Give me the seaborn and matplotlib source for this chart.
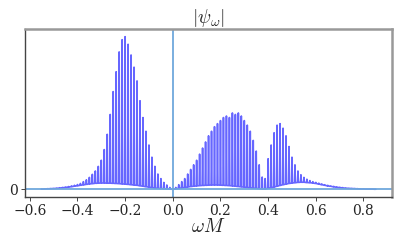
import numpy as np
import pandas as pd
import matplotlib
matplotlib.use("Agg")
import matplotlib.pyplot as plt
import seaborn as sns

# frequency grid of the oscillation peaks
omega_start = -0.55
omega_step = 0.0125

# upper envelope of |psi_omega| (normalised to the peak), one value per peak
upper = [
    0.002, 0.003, 0.004, 0.005, 0.006, 0.008, 0.010, 0.012, 0.015, 0.018,
    0.022, 0.026, 0.031, 0.038, 0.050, 0.062, 0.078, 0.098, 0.120, 0.150,
    0.190, 0.260, 0.360, 0.490, 0.640, 0.770, 0.900, 0.980, 1.000, 0.950,
    0.880, 0.800, 0.710, 0.580, 0.470, 0.380, 0.290, 0.210, 0.150, 0.100,
    0.070, 0.045, 0.028, 0.012, 0.002,
    0.012, 0.030, 0.050, 0.070, 0.100, 0.130, 0.160, 0.190, 0.230, 0.270,
    0.310, 0.350, 0.380, 0.410, 0.430, 0.450, 0.470, 0.480, 0.470, 0.500,
    0.490, 0.500, 0.480, 0.450, 0.420, 0.380, 0.320, 0.250, 0.160, 0.080,
    0.070, 0.200, 0.290, 0.370, 0.420, 0.430, 0.400, 0.350, 0.280, 0.210,
    0.160, 0.120, 0.095, 0.078, 0.066, 0.057, 0.050, 0.045, 0.040, 0.035,
    0.030, 0.026, 0.022, 0.019, 0.016, 0.013, 0.011, 0.009, 0.007, 0.006,
    0.005, 0.004, 0.003, 0.003, 0.002, 0.002, 0.001, 0.001,
]

# lower envelope (minima between the peaks)
lower = [
    0.001, 0.002, 0.003, 0.004, 0.005, 0.006, 0.008, 0.010, 0.012, 0.014,
    0.017, 0.020, 0.023, 0.026, 0.029, 0.032, 0.035, 0.037, 0.039, 0.040,
    0.041, 0.041, 0.040, 0.040, 0.039, 0.038, 0.037, 0.035, 0.034, 0.032,
    0.030, 0.028, 0.026, 0.023, 0.020, 0.017, 0.014, 0.011, 0.008, 0.006,
    0.004, 0.003, 0.002, 0.001, 0.000,
    0.003, 0.006, 0.009, 0.012, 0.015, 0.018, 0.020, 0.022, 0.024, 0.025,
    0.026, 0.027, 0.028, 0.028, 0.028, 0.027, 0.026, 0.025, 0.024, 0.022,
    0.020, 0.018, 0.016, 0.014, 0.012, 0.010, 0.008, 0.006, 0.004, 0.002,
    0.002, 0.006, 0.010, 0.015, 0.020, 0.025, 0.030, 0.034, 0.038, 0.041,
    0.043, 0.045, 0.046, 0.046, 0.044, 0.043, 0.041, 0.038, 0.034, 0.030,
    0.026, 0.022, 0.019, 0.016, 0.013, 0.011, 0.009, 0.007, 0.006, 0.005,
    0.004, 0.003, 0.002, 0.002, 0.001, 0.001, 0.001, 0.000,
]

xticks = [-0.6, -0.4, -0.2, 0.0, 0.2, 0.4, 0.6, 0.8]

n = min(len(upper), len(lower))
omega = omega_start + omega_step * np.arange(n)

# narrow spike at each peak, flat run along the trough in between
d = 0.0018
xs = np.empty(3 * n)
ys = np.empty(3 * n)
xs[0::3] = omega - d
xs[1::3] = omega
xs[2::3] = omega + d
ys[0::3] = lower[:n]
ys[1::3] = upper[:n]
ys[2::3] = lower[:n]
df = pd.DataFrame({"omega": xs, "psi": ys})

sns.set_style("ticks")
plt.rcParams["font.family"] = ["DejaVu Serif"]
plt.rcParams["mathtext.fontset"] = "cm"

fig = plt.figure(figsize=(4.07, 2.44), dpi=100)
ax = fig.add_axes([0.0614, 0.193, 0.902, 0.688])

sns.lineplot(data=df, x="omega", y="psi", sort=False, estimator=None,
             color="#0000ff", alpha=0.6, lw=1.2, ax=ax)

ax.axhline(0, color="#6fa8dc", lw=1.3)
ax.axvline(0, color="#6fa8dc", lw=1.3)

ax.set_xlim(-0.62, 0.92)
ax.set_ylim(-0.05, 1.05)
ax.set_xticks(xticks)
ax.set_xticklabels([f"{t:.1f}".replace("-", "\u2212") for t in xticks])
ax.set_yticks([0])
ax.set_yticklabels(["0"])
ax.tick_params(labelsize=10, length=3, width=0.6, pad=2)

ax.set_xlabel(r"$\omega M$", fontsize=14, labelpad=0)
ax.set_ylabel("")
ax.set_title(r"$|\psi_\omega|$", fontsize=14, pad=1)

for side in ["left", "bottom"]:
    ax.spines[side].set_color("#444444")
    ax.spines[side].set_linewidth(1.0)
for side in ["top", "right"]:
    ax.spines[side].set_visible(True)
    ax.spines[side].set_color("#999999")
    ax.spines[side].set_linewidth(1.8)

fig.savefig("out.png", dpi=100)
